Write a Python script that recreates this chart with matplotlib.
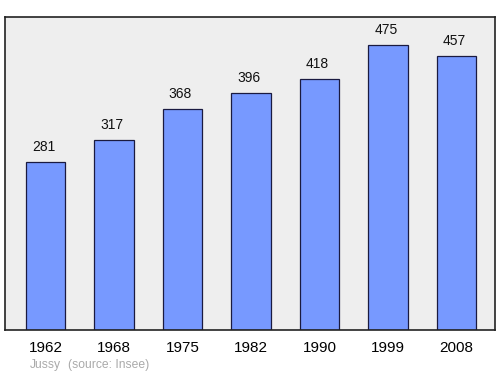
import matplotlib
matplotlib.use("Agg")
from matplotlib import pyplot as plt

years = ["1962", "1968", "1975", "1982", "1990", "1999", "2008"]
population = [281, 317, 368, 396, 418, 475, 457]

plt.rcParams['font.family'] = ['Liberation Sans', 'DejaVu Sans']

fig = plt.figure(figsize=(5, 3.74), dpi=100)
ax = fig.add_axes([5/500, 1 - 330/374, 490/500, 313/374])
ax.set_facecolor('#eeeeee')

x = range(len(years))
ax.bar(x, population, width=0.57, color='#7799ff', edgecolor='#1a1a40', linewidth=0.9, zorder=2)

for i, v in zip(x, population):
    ax.text(i - 0.03, v + 25, str(v), ha='center', va='center', fontsize=10, color='#111111')

ax.set_xlim(-0.591, 6.562)
ax.set_ylim(0, 522)
ax.set_yticks([])
ax.set_xticks(list(x))
ax.set_xticklabels(years, fontsize=11)
ax.tick_params(axis='x', length=0, pad=8)
for s in ax.spines.values():
    s.set_linewidth(1.2)
    s.set_color('#222222')

fig.text(30/500, 1 - 365/374, "Jussy", fontsize=8.7, color='#aaaaaa', va='center')
fig.text(68/500, 1 - 365/374, "(source: Insee)", fontsize=8.7, color='#aaaaaa', va='center')

fig.savefig("out.png", dpi=100)
